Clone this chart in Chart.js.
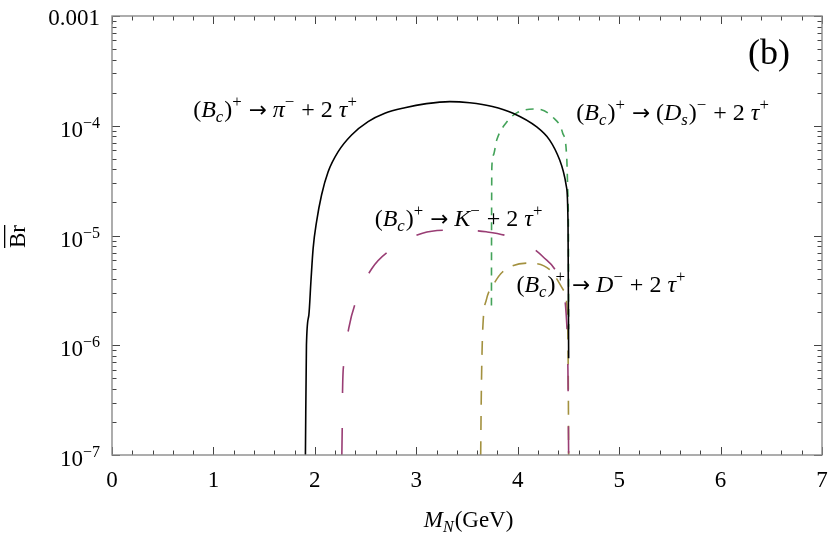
<!DOCTYPE html>
<html>
<head>
<meta charset="utf-8">
<script src="https://cdn.jsdelivr.net/npm/chart.js@4.4.1/dist/chart.umd.min.js"></script>
<style>
body{margin:0;background:#fff}
</style>
</head>
<body>
<canvas id="myChart" width="830" height="540"></canvas>
<script>
// M_N (GeV) and Br values, one pair of arrays per channel
var piM  = [1.907, 1.917, 1.941, 1.961, 1.983, 2.017, 2.066, 2.131, 2.23, 2.362, 2.525, 2.69, 2.887, 3.1, 3.33, 3.527, 3.75, 3.954, 4.184, 4.315, 4.414, 4.48, 4.496, 4.502];
var piBr = [1e-7, 1e-6, 1.89e-6, 3.79e-6, 7.64e-6, 1.34e-5, 2.34e-5, 3.81e-5, 5.81e-5, 8.24e-5, 1.09e-4, 1.3e-4, 1.46e-4, 1.59e-4, 1.66e-4, 1.62e-4, 1.5e-4, 1.3e-4, 9.8e-5, 7.4e-5, 4.87e-5, 2.79e-5, 1.29e-5, 7.6e-7];

var dsM  = [3.741, 3.742, 3.745, 3.76, 3.793, 3.892, 3.99, 4.187, 4.345, 4.443, 4.483, 4.493, 4.5, 4.502];
var dsBr = [2.3e-6, 1e-5, 4.2e-5, 5.4e-5, 7.4e-5, 1.08e-4, 1.31e-4, 1.42e-4, 1.2e-4, 8.6e-5, 5.2e-5, 2.6e-5, 1e-5, 1.4e-6];

var kM   = [2.266, 2.27, 2.273, 2.286, 2.335, 2.411, 2.559, 2.756, 3.061, 3.33, 3.69, 3.95, 4.249, 4.414, 4.483, 4.495, 4.502];
var kBr  = [1e-7, 1.8e-7, 3.75e-7, 6.9e-7, 1.44e-6, 2.6e-6, 4.95e-6, 7.5e-6, 1.05e-5, 1.12e-5, 1.08e-5, 9.5e-6, 6.4e-6, 3.9e-6, 1.6e-6, 6e-7, 1e-7];

var dM   = [3.635, 3.64, 3.648, 3.66, 3.69, 3.77, 3.85, 4.09, 4.32, 4.45, 4.49, 4.498, 4.502];
var dBr  = [1e-7, 3e-7, 8.5e-7, 1.7e-6, 2.58e-6, 3.69e-6, 4.65e-6, 5.6e-6, 4.85e-6, 3.19e-6, 1.97e-6, 6e-7, 1e-7];

// axis ticks
var xTicks = [0, 1, 2, 3, 4, 5, 6, 7];
var yTicks = [1e-7, 1e-6, 1e-5, 1e-4, 1e-3];
var yTickBase = ["10", "10", "10", "10", "0.001"];
var yTickExp  = ["\u22127", "\u22126", "\u22125", "\u22124", ""];

function pts(xs, ys) {
  return xs.map(function (v, i) { return {x: v, y: ys[i]}; });
}

var SERIF = '"Liberation Serif", "DejaVu Serif", serif';

// draws text pieces one after another: r = roman, i = italic, a = arrow, sup / isub = small
function rich(ctx, parts, x, y, size) {
  var cx = x;
  ctx.textAlign = "left";
  ctx.textBaseline = "alphabetic";
  parts.forEach(function (p) {
    var k = p[1] || "r";
    var small = (k == "sup" || k == "isub");
    var fs = small ? size * 0.7 : size;
    var it = (k == "i" || k == "isub");
    if (k == "a") ctx.font = size * 0.9 + 'px "DejaVu Sans"';
    else ctx.font = (it ? "italic " : "") + fs + "px " + SERIF;
    var dy = 0;
    if (k == "sup") dy = -size * 0.42;
    if (k == "isub") dy = size * 0.22;
    ctx.fillText(p[0], cx, y + dy);
    cx += ctx.measureText(p[0]).width + (small ? 1 : 0);
  });
  return cx - x;
}

var bc = [["(", "r"], ["B", "i"], ["c", "isub"], [")", "r"], ["+", "sup"], [" ", "r"], ["\u2192", "a"], [" ", "r"]];
var labels = [
  {x: 0.80, y: 1.2e-4,  parts: bc.concat([["\u03c0", "i"], ["\u2212", "sup"], [" + 2 ", "r"], ["\u03c4", "i"], ["+", "sup"]])},
  {x: 4.578, y: 1.13e-4, parts: bc.concat([["(", "r"], ["D", "i"], ["s", "isub"], [")", "r"], ["\u2212", "sup"], [" + 2 ", "r"], ["\u03c4", "i"], ["+", "sup"]])},
  {x: 2.59, y: 1.22e-5, parts: bc.concat([["K", "i"], ["\u2212", "sup"], [" + 2 ", "r"], ["\u03c4", "i"], ["+", "sup"]])},
  {x: 3.987, y: 3.08e-6, parts: bc.concat([["D", "i"], ["\u2212", "sup"], [" + 2 ", "r"], ["\u03c4", "i"], ["+", "sup"]])}
];

var frame = {
  id: "frame",
  afterDraw: function (chart) {
    var ctx = chart.ctx, a = chart.chartArea;
    var x = chart.scales.x, y = chart.scales.y;
    ctx.save();

    // ticks inside the frame, on all four sides
    ctx.strokeStyle = "#444";
    ctx.lineWidth = 1;
    ctx.beginPath();
    for (var i = 0; i <= 35; i++) {
      var px = Math.round(x.getPixelForValue(i * 0.2)) + 0.5;
      var len = (i % 5 == 0) ? 8 : 4.5;
      ctx.moveTo(px, a.bottom); ctx.lineTo(px, a.bottom - len);
      ctx.moveTo(px, a.top); ctx.lineTo(px, a.top + len);
    }
    for (var e = -7; e <= -3; e++) {
      for (var m = 1; m <= 9; m++) {
        if (e == -3 && m > 1) break;
        var py = Math.round(y.getPixelForValue(m * Math.pow(10, e))) + 0.5;
        var l2 = (m == 1) ? 8 : 4.5;
        ctx.moveTo(a.left, py); ctx.lineTo(a.left + l2, py);
        ctx.moveTo(a.right, py); ctx.lineTo(a.right - l2, py);
      }
    }
    ctx.stroke();

    ctx.strokeStyle = "#8a8a8a";
    ctx.lineWidth = 1.4;
    ctx.strokeRect(a.left, a.top, a.right - a.left, a.bottom - a.top);

    ctx.fillStyle = "#000";
    // x tick labels
    ctx.font = "23px " + SERIF;
    ctx.textAlign = "center";
    ctx.textBaseline = "alphabetic";
    xTicks.forEach(function (v) {
      ctx.fillText(String(v), x.getPixelForValue(v), a.bottom + 32);
    });

    // y tick labels, right aligned
    yTicks.forEach(function (v, i) {
      var py = y.getPixelForValue(v);
      var right = a.left - 12;
      if (yTickExp[i] == "") {
        ctx.font = "23px " + SERIF;
        ctx.textAlign = "right";
        ctx.fillText(yTickBase[i], right, py + 9);
      } else {
        ctx.font = "16px " + SERIF;
        ctx.textAlign = "left";
        var ew = ctx.measureText(yTickExp[i]).width;
        ctx.fillText(yTickExp[i], right - ew, py + 2);
        ctx.font = "23px " + SERIF;
        ctx.textAlign = "right";
        ctx.fillText(yTickBase[i], right - ew, py + 11);
      }
    });

    // axis titles
    var tw = 0;
    ctx.font = "italic 23px " + SERIF;
    tw += ctx.measureText("M").width;
    ctx.font = "16.1px " + SERIF;
    tw += ctx.measureText("N").width + 1;
    ctx.font = "23px " + SERIF;
    tw += ctx.measureText("(GeV)").width;
    rich(ctx, [["M", "i"], ["N", "isub"], ["(GeV)", "r"]], (a.left + a.right) / 2 + 2 - tw / 2, 527, 23);

    ctx.save();
    ctx.translate(25, (a.top + a.bottom) / 2 + 1);
    ctx.rotate(-Math.PI / 2);
    ctx.font = "23px " + SERIF;
    ctx.textAlign = "center";
    ctx.fillText("Br", 0, 0);
    var bw = ctx.measureText("Br").width;
    ctx.fillRect(-bw / 2, -21, bw, 1.3);
    ctx.restore();

    // panel tag
    ctx.font = "36px " + SERIF;
    ctx.textAlign = "left";
    ctx.fillText("(b)", 748, 64);

    // curve labels, anchored in data coordinates
    labels.forEach(function (lb) {
      rich(ctx, lb.parts, x.getPixelForValue(lb.x), y.getPixelForValue(lb.y), 24);
    });
    ctx.restore();
  }
};

new Chart("myChart", {
  type: "line",
  data: {
    datasets: [
      {data: pts(piM, piBr), borderColor: "#000", borderWidth: 1.6},
      {data: pts(dsM, dsBr), borderColor: "#44a35a", borderWidth: 1.6, borderDash: [8, 7]},
      {data: pts(kM, kBr), borderColor: "#993d74", borderWidth: 1.6, borderDash: [27, 35]},
      {data: pts(dM, dBr), borderColor: "#a3913f", borderWidth: 1.6, borderDash: [14, 11]}
    ]
  },
  options: {
    responsive: false,
    animation: false,
    devicePixelRatio: 1,
    layout: {padding: {left: 112, top: 16, right: 8, bottom: 85}},
    elements: {
      point: {radius: 0},
      line: {cubicInterpolationMode: "monotone", fill: false}
    },
    scales: {
      x: {type: "linear", min: 0, max: 7, display: false},
      y: {type: "logarithmic", min: 1e-7, max: 1e-3, display: false}
    },
    plugins: {legend: {display: false}, tooltip: {enabled: false}}
  },
  plugins: [frame]
});
</script>
</body>
</html>
